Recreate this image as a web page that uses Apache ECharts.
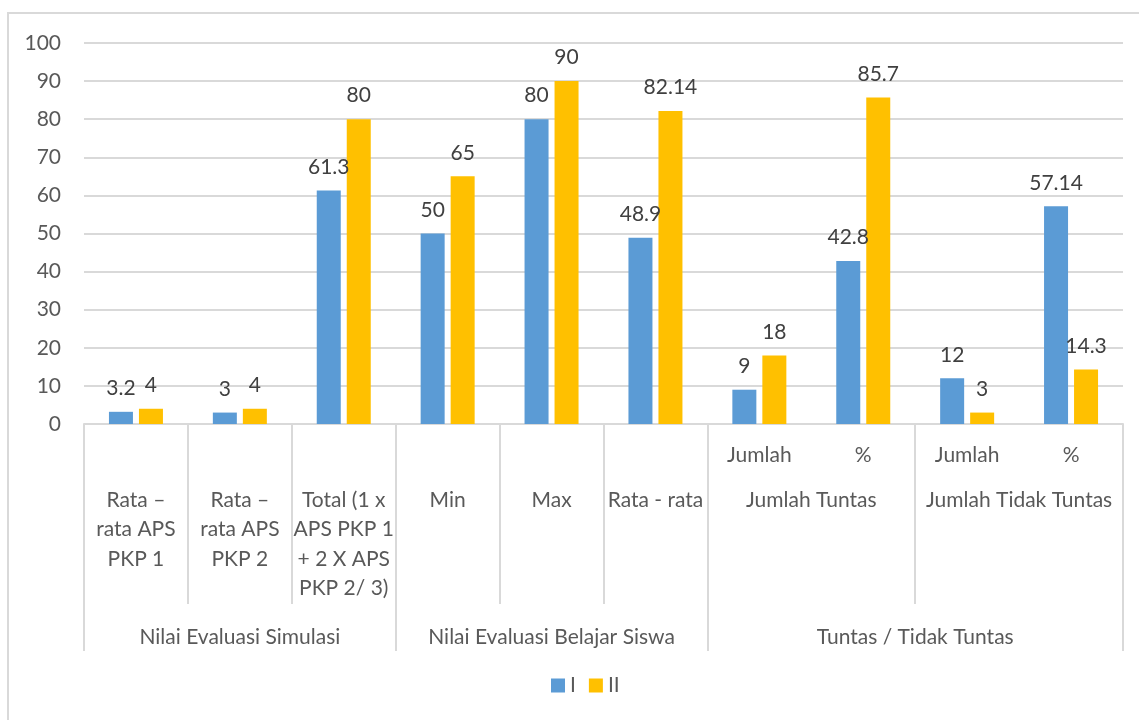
<!DOCTYPE html>
<html>
<head>
<meta charset="utf-8">
<script src="https://cdn.jsdelivr.net/npm/echarts@6/dist/echarts.min.js"></script>
<style>
  html, body { margin: 0; padding: 0; background: #fff; }
  #chart { width: 1139px; height: 720px; }
</style>
</head>
<body>
<div id="chart"></div>
<script>
// category levels (Excel style multi-level axis)
let subLabels = ['', '', '', '', '', '', 'Jumlah', '%', 'Jumlah', '%']
let catLabels = [
  'Rata –\nrata APS\nPKP 1',
  'Rata –\nrata APS\nPKP 2',
  'Total (1 x\nAPS PKP 1\n+ 2 X APS\nPKP 2/ 3)',
  'Min', 'Max', 'Rata - rata',
  'Jumlah Tuntas', '',
  'Jumlah Tidak Tuntas', ''
]
let groupLabels = ['', 'Nilai Evaluasi Simulasi', '', '', 'Nilai Evaluasi Belajar Siswa', '', '', 'Tuntas / Tidak Tuntas', '', '']
let seriesNames = ['I', 'II']
let valuesI = [3.2, 3, 61.3, 50, 80, 48.9, 9, 42.8, 12, 57.14]
let valuesII = [4, 4, 80, 65, 90, 82.14, 18, 85.7, 3, 14.3]
let yTicks = [0, 100, 10]

const FONT = 'Lato'
const FS = 21
const TEXT = '#595959'
const LINE = '#d9d9d9'
const BAND = (1123 - 84) / 10

// label in the middle of two categories -> push it half a band right
function shifted(shiftIdx) {
  return function (v, i) {
    return shiftIdx.indexOf(i) >= 0 && v ? '{s|' + v + '}' : v
  }
}

function labelStyle(extra) {
  return Object.assign({
    interval: 0,
    fontFamily: FONT,
    fontSize: FS,
    color: TEXT,
    lineHeight: 29.5
  }, extra)
}

function catAxis(data, opt) {
  return Object.assign({
    type: 'category',
    position: 'bottom',
    data: data,
    axisLine: { show: false, onZero: false },
    axisTick: { show: false },
    axisLabel: labelStyle()
  }, opt)
}

let chart = echarts.init(document.getElementById('chart'))

chart.setOption({
  animation: false,
  textStyle: { fontFamily: FONT },
  color: ['#5B9BD5', '#FFC000'],
  graphic: [{
    type: 'rect',
    shape: { x: 8, y: 13, width: 1160, height: 740 },
    style: { fill: null, stroke: LINE, lineWidth: 2 },
    silent: true
  }],
  grid: { left: 84, right: 16, top: 43, bottom: 296 },
  legend: {
    bottom: 19,
    left: 546,
    itemWidth: 14,
    itemHeight: 14,
    itemGap: 13,
    icon: 'rect',
    textStyle: { fontFamily: FONT, fontSize: FS, color: TEXT },
    data: seriesNames
  },
  xAxis: [
    // level 1 : Jumlah / %  + short separators
    catAxis(subLabels, {
      axisLine: { show: true, onZero: false, lineStyle: { color: LINE, width: 2 } },
      axisTick: {
        show: true,
        length: 180,
        interval: function (i) { return i !== 7 && i !== 9 },
        lineStyle: { color: LINE, width: 2 }
      },
      axisLabel: labelStyle({ margin: 16 })
    }),
    // level 2 : category names
    catAxis(catLabels, {
      axisLabel: labelStyle({
        margin: 61,
        formatter: shifted([6, 8]),
        rich: { s: { padding: [0, 0, 0, BAND], fontFamily: FONT, fontSize: FS, color: TEXT } }
      })
    }),
    // level 3 : groups + long separators
    catAxis(groupLabels, {
      axisTick: {
        show: true,
        length: 227,
        interval: function (i) { return i === 0 || i === 3 || i === 6 },
        lineStyle: { color: LINE, width: 2 }
      },
      axisLabel: labelStyle({
        margin: 198,
        formatter: shifted([7]),
        rich: { s: { padding: [0, 0, 0, BAND], fontFamily: FONT, fontSize: FS, color: TEXT } }
      })
    })
  ],
  yAxis: {
    type: 'value',
    min: yTicks[0],
    max: yTicks[1],
    interval: yTicks[2],
    axisLine: { show: false },
    axisTick: { show: false },
    axisLabel: { fontFamily: FONT, fontSize: FS, color: TEXT, margin: 23 },
    splitLine: { lineStyle: { color: LINE, width: 2 } }
  },
  series: [valuesI, valuesII].map((vals, k) => ({
    name: seriesNames[k],
    type: 'bar',
    xAxisIndex: 0,
    data: vals,
    barWidth: 24,
    barGap: '25%',
    label: {
      show: true,
      position: 'top',
      distance: 13,
      fontFamily: FONT,
      fontSize: FS,
      color: '#404040'
    }
  }))
})
</script>
</body>
</html>
